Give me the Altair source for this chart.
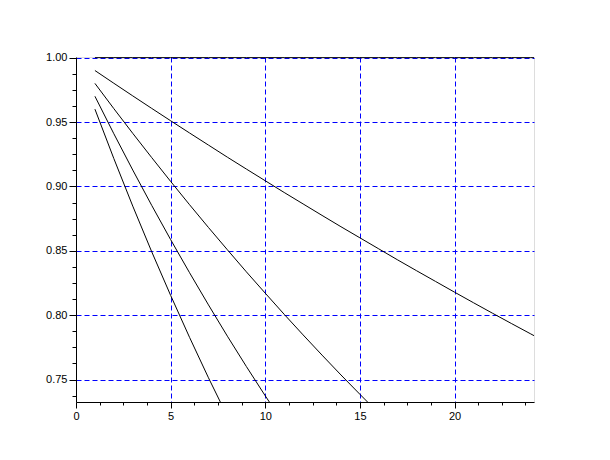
import altair as alt
import pandas as pd

# Values (one series per rate)
x_vals = list(range(1, 26))
s100 = [1.0] * 25
s099 = [0.99, 0.9801, 0.9703, 0.9606, 0.9510, 0.9415, 0.9321, 0.9227, 0.9135, 0.9044,
        0.8953, 0.8864, 0.8775, 0.8687, 0.8601, 0.8515, 0.8429, 0.8345, 0.8262, 0.8179,
        0.8097, 0.8016, 0.7936, 0.7857, 0.7778]
s098 = [0.98, 0.9604, 0.9412, 0.9224, 0.9039, 0.8858, 0.8681, 0.8508, 0.8337, 0.8171,
        0.8007, 0.7847, 0.7690, 0.7536, 0.7386, 0.7238]
s097 = [0.97, 0.9409, 0.9127, 0.8853, 0.8587, 0.8330, 0.8080, 0.7837, 0.7602, 0.7374,
        0.7153]
s096 = [0.96, 0.9216, 0.8847, 0.8493, 0.8154, 0.7828, 0.7514, 0.7214]

series = {"1.00": s100, "0.99": s099, "0.98": s098, "0.97": s097, "0.96": s096}
rows = []
for name, vals in series.items():
    for xv, yv in zip(x_vals, vals):
        rows.append({"s": name, "x": xv, "y": yv})
df = pd.DataFrame(rows)

x_ticks = [i * 1.25 for i in range(0, 20)]
y_ticks = [round(0.7375 + i * 0.0125, 4) for i in range(0, 22)]

BLUE = "#0000ff"
FONT = "Liberation Sans"

x_major = "abs(datum.value/5 - round(datum.value/5)) < 1e-6"
y_major = "abs(datum.value*20 - round(datum.value*20)) < 1e-6"

x_axis = alt.Axis(
    values=x_ticks,
    labelExpr=f"({x_major}) ? format(datum.value, 'd') : ''",
    grid=True,
    gridColor=BLUE,
    gridDash=[5, 3],
    gridWidth=1,
    gridOpacity={"condition": {"test": f"({x_major}) && datum.value > 0", "value": 1}, "value": 0},
    domainColor="black",
    domainWidth=1,
    tickColor="black",
    tickSize={"condition": {"test": x_major, "value": 6}, "value": 3},
    labelFont=FONT,
    labelFontSize=11,
    labelColor="black",
    labelPadding=2,
    labelFlush=False,
    labelOverlap=False,
    title=None,
)
y_axis = alt.Axis(
    values=y_ticks,
    labelExpr=f"({y_major}) ? format(datum.value, '.2f') : ''",
    grid=True,
    gridColor=BLUE,
    gridDash=[5, 3],
    gridWidth=1,
    gridOpacity={"condition": {"test": y_major, "value": 1}, "value": 0},
    domainColor="black",
    domainWidth=1,
    tickColor="black",
    tickSize={"condition": {"test": y_major, "value": 7}, "value": 4},
    labelFont=FONT,
    labelFontSize=11,
    labelColor="black",
    labelPadding=2,
    labelFlush=False,
    labelOverlap=False,
    title=None,
)

chart = alt.Chart(df).mark_line(color="black", strokeWidth=1, clip=True).encode(
    x=alt.X("x:Q", scale=alt.Scale(domain=[0, 24.2], nice=False, zero=False), axis=x_axis),
    y=alt.Y("y:Q", scale=alt.Scale(domain=[0.7326, 1.0005], nice=False, zero=False), axis=y_axis),
    detail="s:N",
).properties(
    width=458,
    height=345,
    autosize=alt.AutoSizeParams(type="none"),
    padding={"left": 68, "top": 49, "right": 60, "bottom": 50},
).configure_view(stroke=None).configure(background="white")

chart.save("out.html", embed_options={"renderer": "svg", "actions": False})
